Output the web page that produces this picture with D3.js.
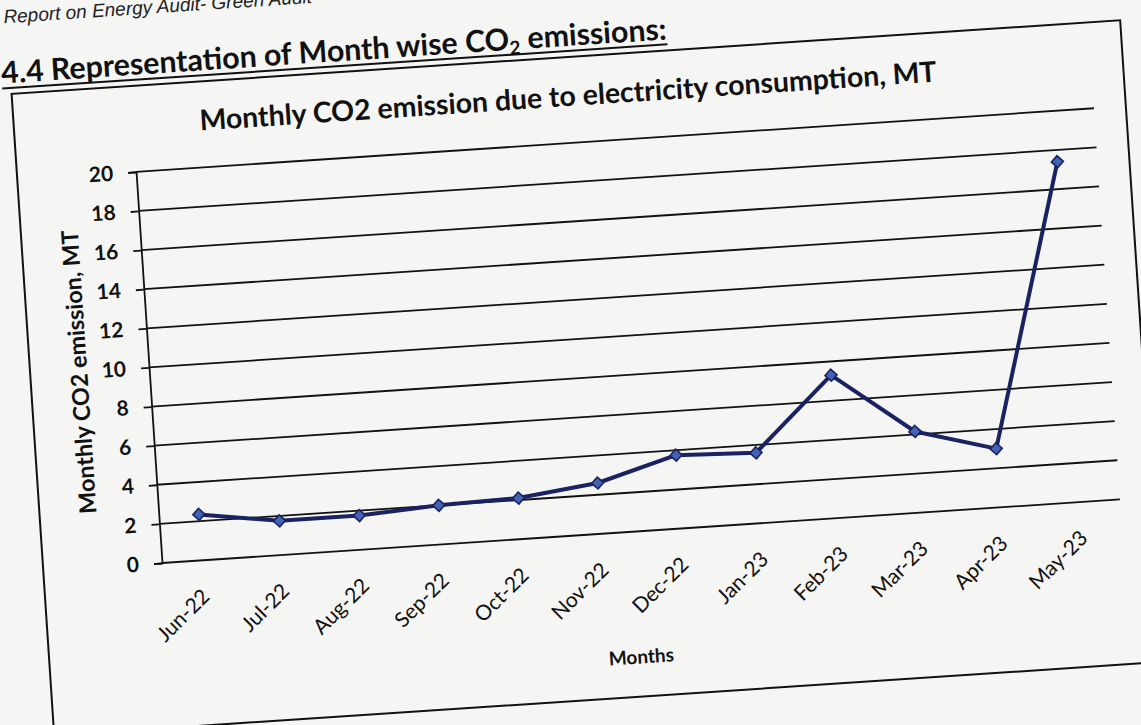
<!DOCTYPE html>
<html><head><meta charset="utf-8">
<script src="https://cdn.jsdelivr.net/npm/d3@7"></script>
<style>html,body{margin:0;padding:0;background:#f5f5f3;overflow:hidden}</style>
</head><body>
<svg id="c" width="1141" height="725"></svg>
<script>
// ---- data ----
const months = ["Jun-22","Jul-22","Aug-22","Sep-22","Oct-22","Nov-22","Dec-22","Jan-23","Feb-23","Mar-23","Apr-23","May-23"];
const emissions = [2.35, 1.75, 1.75, 2.0, 2.1, 2.6, 3.75, 3.6, 7.3, 4.15, 3.0, 17.4];
const yTickValues = [0, 2, 4, 6, 8, 10, 12, 14, 16, 18, 20];
const chartTitle = "Monthly CO2 emission due to electricity consumption, MT";
const yTitle = "Monthly CO2 emission, MT";
const xTitle = "Months";
const pageHeader = "Report on Energy Audit- Green Audit";

const FONT = "Lato, 'Open Sans', sans-serif";
const svg = d3.select("#c");
svg.append("rect").attr("width", 1141).attr("height", 725).attr("fill", "#f5f5f3");

function fit(sel, target) {
  const w = sel.node().getComputedTextLength();
  const fs = parseFloat(sel.attr("font-size"));
  sel.attr("font-size", fs * target / w);
}

// the scanned page is slightly tilted
const page = svg.append("g").attr("transform", "rotate(-3.8,162,563)");

// page header (cut off by the top edge, as in the scan)
page.append("text").attr("x", 40).attr("y", 14)
  .attr("font-family", "'Liberation Sans', Arial, sans-serif").attr("font-style", "italic")
  .attr("font-size", 19).attr("fill", "#222").text(pageHeader);

// section heading
const head = page.append("text").attr("x", 34).attr("y", 74)
  .attr("font-family", FONT).attr("font-weight", "bold").attr("font-size", 26).attr("fill", "#111");
head.append("tspan").text("4.4 Representation of Month wise CO");
head.append("tspan").attr("font-size", "0.62em").attr("dy", 5).text("2");
head.append("tspan").attr("dy", -5).text(" emissions:");
fit(head, 667);
const hw = head.node().getComputedTextLength();
page.append("line").attr("x1", 34).attr("x2", 34 + hw).attr("y1", 79).attr("y2", 79)
  .attr("stroke", "#111").attr("stroke-width", 2);

// chart area border
page.append("rect").attr("x", 43).attr("y", 85).attr("width", 1111).attr("height", 643)
  .attr("fill", "none").attr("stroke", "#111").attr("stroke-width", 2);

// chart title
const t = page.append("text").attr("x", 598).attr("y", 134).attr("text-anchor", "middle")
  .attr("font-family", FONT).attr("font-weight", "bold").attr("font-size", 26).attr("fill", "#111")
  .text(chartTitle);
fit(t, 739);

// plot
const W = 960, H = 392;
const plot = page.append("g").attr("transform", "translate(162,171)");
const x = d3.scalePoint().domain(months).range([0, W]).padding(0.5);
const y = d3.scaleLinear().domain([0, 20]).range([H, 0]);

plot.append("g").selectAll("line").data(yTickValues).join("line")
  .attr("x1", 0).attr("x2", W).attr("y1", d => y(d)).attr("y2", d => y(d))
  .attr("stroke", "#111").attr("stroke-width", 1.8);

const yAxis = plot.append("g").call(d3.axisLeft(y).tickValues(yTickValues).tickSize(8).tickPadding(15));
yAxis.select(".domain").attr("stroke", "#111").attr("stroke-width", 1.8);
yAxis.selectAll(".tick line").attr("stroke", "#111").attr("stroke-width", 1.8);
yAxis.selectAll("text").attr("font-family", FONT).attr("font-weight", "bold")
  .attr("font-size", 21).attr("fill", "#111");

const xAxis = plot.append("g").attr("transform", `translate(0,${H})`)
  .call(d3.axisBottom(x).tickSize(0).tickPadding(0));
xAxis.select(".domain").remove();
xAxis.selectAll("text").attr("font-family", FONT).attr("font-size", 21).attr("fill", "#111")
  .attr("text-anchor", "end").attr("dy", 0).attr("y", 0)
  .attr("transform", "translate(6,38) rotate(-41)");

// axis titles
const yt = plot.append("text").attr("transform", `translate(-62,${H / 2}) rotate(-90)`)
  .attr("text-anchor", "middle").attr("font-family", FONT).attr("font-weight", "bold")
  .attr("font-size", 21).attr("fill", "#111").text(yTitle);
fit(yt, 284);
plot.append("text").attr("x", W / 2 - 8).attr("y", H + 132).attr("text-anchor", "middle")
  .attr("font-family", FONT).attr("font-weight", "bold").attr("font-size", 19).attr("fill", "#111")
  .text(xTitle);

// series
const line = d3.line().x((d, i) => x(months[i])).y(d => y(d));
plot.append("path").datum(emissions).attr("d", line).attr("fill", "none")
  .attr("stroke", "#1b2262").attr("stroke-width", 4).attr("stroke-linejoin", "round");
plot.append("g").selectAll("path").data(emissions).join("path")
  .attr("d", d3.symbol(d3.symbolSquare, 72))
  .attr("transform", (d, i) => `translate(${x(months[i])},${y(d)}) rotate(45)`)
  .attr("fill", "#4262b4").attr("stroke", "#1b2262").attr("stroke-width", 1.6);
</script>
</body></html>
